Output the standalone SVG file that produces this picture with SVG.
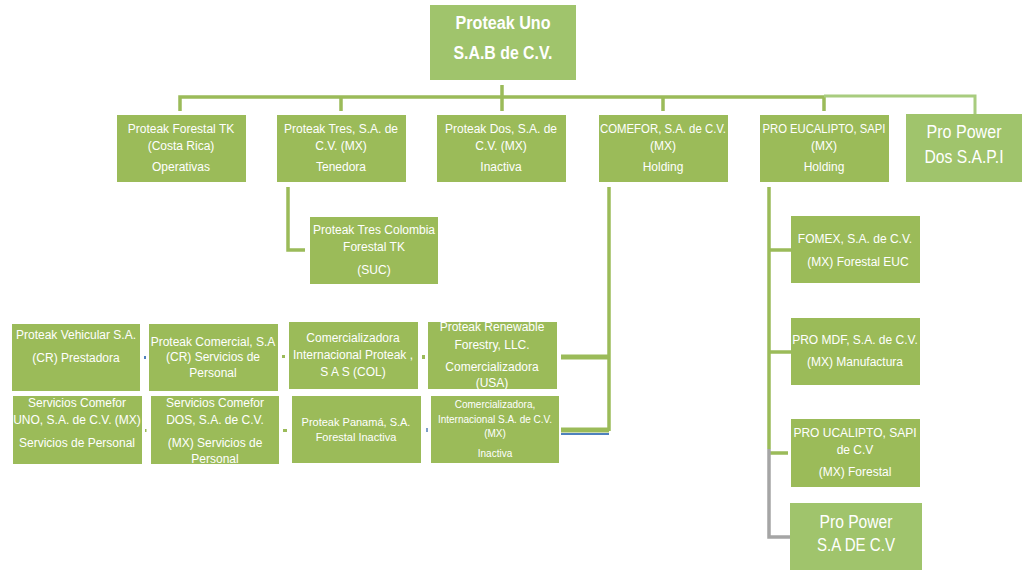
<svg xmlns="http://www.w3.org/2000/svg" width="1024" height="572" viewBox="0 0 1024 572">
<style>
.b{fill:#9BBB59}
.l{fill:#A0C46C}
.t{fill:#fff;font-family:"Liberation Sans",Arial,sans-serif;font-size:12px;text-anchor:middle}
.s{font-size:11px}
.xs{font-size:10px}
.big{font-size:18px}
.bold{font-weight:bold}
.c{stroke:#9BBB59;stroke-width:3.5;fill:none}
.c2{stroke:#A8CC7E;stroke-width:3;fill:none}
.g{stroke:#A5A5A5;stroke-width:3.5;fill:none}
.th{stroke:#9BBB59;stroke-width:5;fill:none}
</style>
<rect width="1024" height="572" fill="#fff"/>
<g id="connectors">
<path class="c" d="M180 111V97H824M341 111V97M502 85V111M663 111V97M824 111V97"/>
<path class="c2" d="M824 96H975V114"/>
<path class="c" d="M288 187V250H305"/>
<path class="c" d="M769 187V449M769 250H791M769 352H791M769 453H788"/>
<path class="g" d="M769 449V537H790"/>
<path class="c" d="M609 187V431"/>
<path class="th" d="M561 357H609"/>
<path stroke="#4F81BD" stroke-width="2" fill="none" d="M561 434H609"/>
<path class="th" d="M561 430H609"/>
<rect x="144" y="356" width="2" height="3" fill="#4F81BD"/>
<rect x="282" y="355" width="3" height="3" fill="#9BBB59"/>
<rect x="422" y="355" width="3" height="4" fill="#9BBB59"/>
<rect x="145" y="429" width="1.5" height="3" fill="#9BBB59"/>
<rect x="283" y="429" width="4" height="3" fill="#9BBB59"/>
<rect x="426" y="428" width="2" height="4" fill="#7FA0C8"/>
</g>
<g id="root"><rect class="l" x="430" y="5" width="146" height="75"/>
<text class="t big bold" x="503" y="29" textLength="95" lengthAdjust="spacingAndGlyphs">Proteak Uno</text><text class="t big bold" x="503" y="59" textLength="99" lengthAdjust="spacingAndGlyphs">S.A.B de C.V.</text></g>
<g id="n1"><rect class="b" x="117" y="115" width="129" height="67"/>
<text class="t" x="181" y="133">Proteak Forestal TK</text><text class="t" x="181" y="150">(Costa Rica)</text><text class="t" x="181" y="171">Operativas</text></g>
<g id="n2"><rect class="b" x="277" y="115" width="129" height="67"/>
<text class="t" x="341" y="133">Proteak Tres, S.A. de</text><text class="t" x="341" y="150">C.V. (MX)</text><text class="t" x="341" y="171">Tenedora</text></g>
<g id="n3"><rect class="b" x="437" y="115" width="129" height="67"/>
<text class="t" x="501" y="133">Proteak Dos, S.A. de</text><text class="t" x="501" y="150">C.V. (MX)</text><text class="t" x="501" y="171">Inactiva</text></g>
<g id="n4"><rect class="b" x="599" y="115" width="129" height="67"/>
<text class="t" x="663" y="133" textLength="126" lengthAdjust="spacingAndGlyphs">COMEFOR, S.A. de C.V.</text><text class="t" x="663" y="150">(MX)</text><text class="t" x="663" y="171">Holding</text></g>
<g id="n5"><rect class="b" x="760" y="115" width="129" height="67"/>
<text class="t" x="824" y="133" textLength="123" lengthAdjust="spacingAndGlyphs">PRO EUCALIPTO, SAPI</text><text class="t" x="824" y="150">(MX)</text><text class="t" x="824" y="171">Holding</text></g>
<g id="n6"><rect class="l" x="906" y="114" width="116" height="68"/>
<text class="t big" x="964" y="138" textLength="75" lengthAdjust="spacingAndGlyphs">Pro Power</text><text class="t big" x="964" y="163" textLength="79" lengthAdjust="spacingAndGlyphs">Dos S.A.P.I</text></g>
<g id="n7"><rect class="b" x="310" y="217" width="128" height="67"/>
<text class="t" x="374" y="234">Proteak Tres Colombia</text><text class="t" x="374" y="251">Forestal  TK</text><text class="t" x="374" y="274">(SUC)</text></g>
<g id="n8"><rect class="b" x="791" y="216" width="129" height="67"/>
<text class="t" x="855" y="243">FOMEX, S.A. de C.V.</text><text class="t" x="858" y="266">(MX) Forestal  EUC</text></g>
<g id="n9"><rect class="b" x="791" y="318" width="129" height="67"/>
<text class="t" x="855" y="344">PRO MDF, S.A. de C.V.</text><text class="t" x="855" y="366">(MX) Manufactura</text></g>
<g id="n10"><rect class="b" x="791" y="419" width="129" height="68"/>
<text class="t" x="855" y="437">PRO UCALIPTO, SAPI</text><text class="t" x="855" y="454">de C.V</text><text class="t" x="855" y="476">(MX) Forestal</text></g>
<g id="n11"><rect class="l" x="790" y="503" width="132" height="67"/>
<text class="t big" x="856" y="528" textLength="73" lengthAdjust="spacingAndGlyphs">Pro Power</text><text class="t big" x="856" y="551" textLength="78" lengthAdjust="spacingAndGlyphs">S.A DE C.V</text></g>
<g id="n12"><rect class="b" x="12" y="324" width="128" height="67"/>
<text class="t" x="76" y="339">Proteak Vehicular  S.A.</text><text class="t" x="76" y="362">(CR) Prestadora</text></g>
<g id="n13"><rect class="b" x="149" y="324" width="129" height="67"/>
<text class="t" x="213" y="346">Proteak Comercial, S.A</text><text class="t" x="213" y="361">(CR) Servicios de</text><text class="t" x="213" y="377">Personal</text></g>
<g id="n14"><rect class="b" x="289" y="322" width="129" height="67"/>
<text class="t" x="353" y="342">Comercializadora</text><text class="t" x="353" y="359">Internacional Proteak ,</text><text class="t" x="353" y="376">S A S  (COL)</text></g>
<g id="n15"><rect class="b" x="428" y="322" width="129" height="67"/>
<text class="t" x="492" y="331">Proteak Renewable</text><text class="t" x="492" y="349">Forestry, LLC.</text><text class="t" x="492" y="371">Comercializadora</text><text class="t" x="492" y="387">(USA)</text></g>
<g id="n16"><rect class="b" x="13" y="396" width="129" height="68"/>
<text class="t" x="77" y="407">Servicios Comefor</text><text class="t" x="77" y="424">UNO, S.A. de C.V. (MX)</text><text class="t" x="77" y="447">Servicios de Personal</text></g>
<g id="n17"><rect class="b" x="151" y="396" width="128" height="68"/>
<text class="t" x="215" y="407">Servicios Comefor</text><text class="t" x="215" y="424">DOS, S.A. de C.V.</text><text class="t" x="215" y="447">(MX) Servicios de</text><text class="t" x="215" y="463">Personal</text></g>
<g id="n18"><rect class="b" x="292" y="396" width="129" height="67"/>
<text class="t s" x="356" y="426">Proteak Panamá, S.A.</text><text class="t s" x="356" y="441">Forestal Inactiva</text></g>
<g id="n19"><rect class="b" x="431" y="396" width="128" height="67"/>
<text class="t xs" x="495" y="408">Comercializadora,</text><text class="t xs" x="495" y="423">Internacional S.A. de C.V.</text><text class="t xs" x="495" y="437">(MX)</text><text class="t xs" x="495" y="457">Inactiva</text></g>
</svg>
